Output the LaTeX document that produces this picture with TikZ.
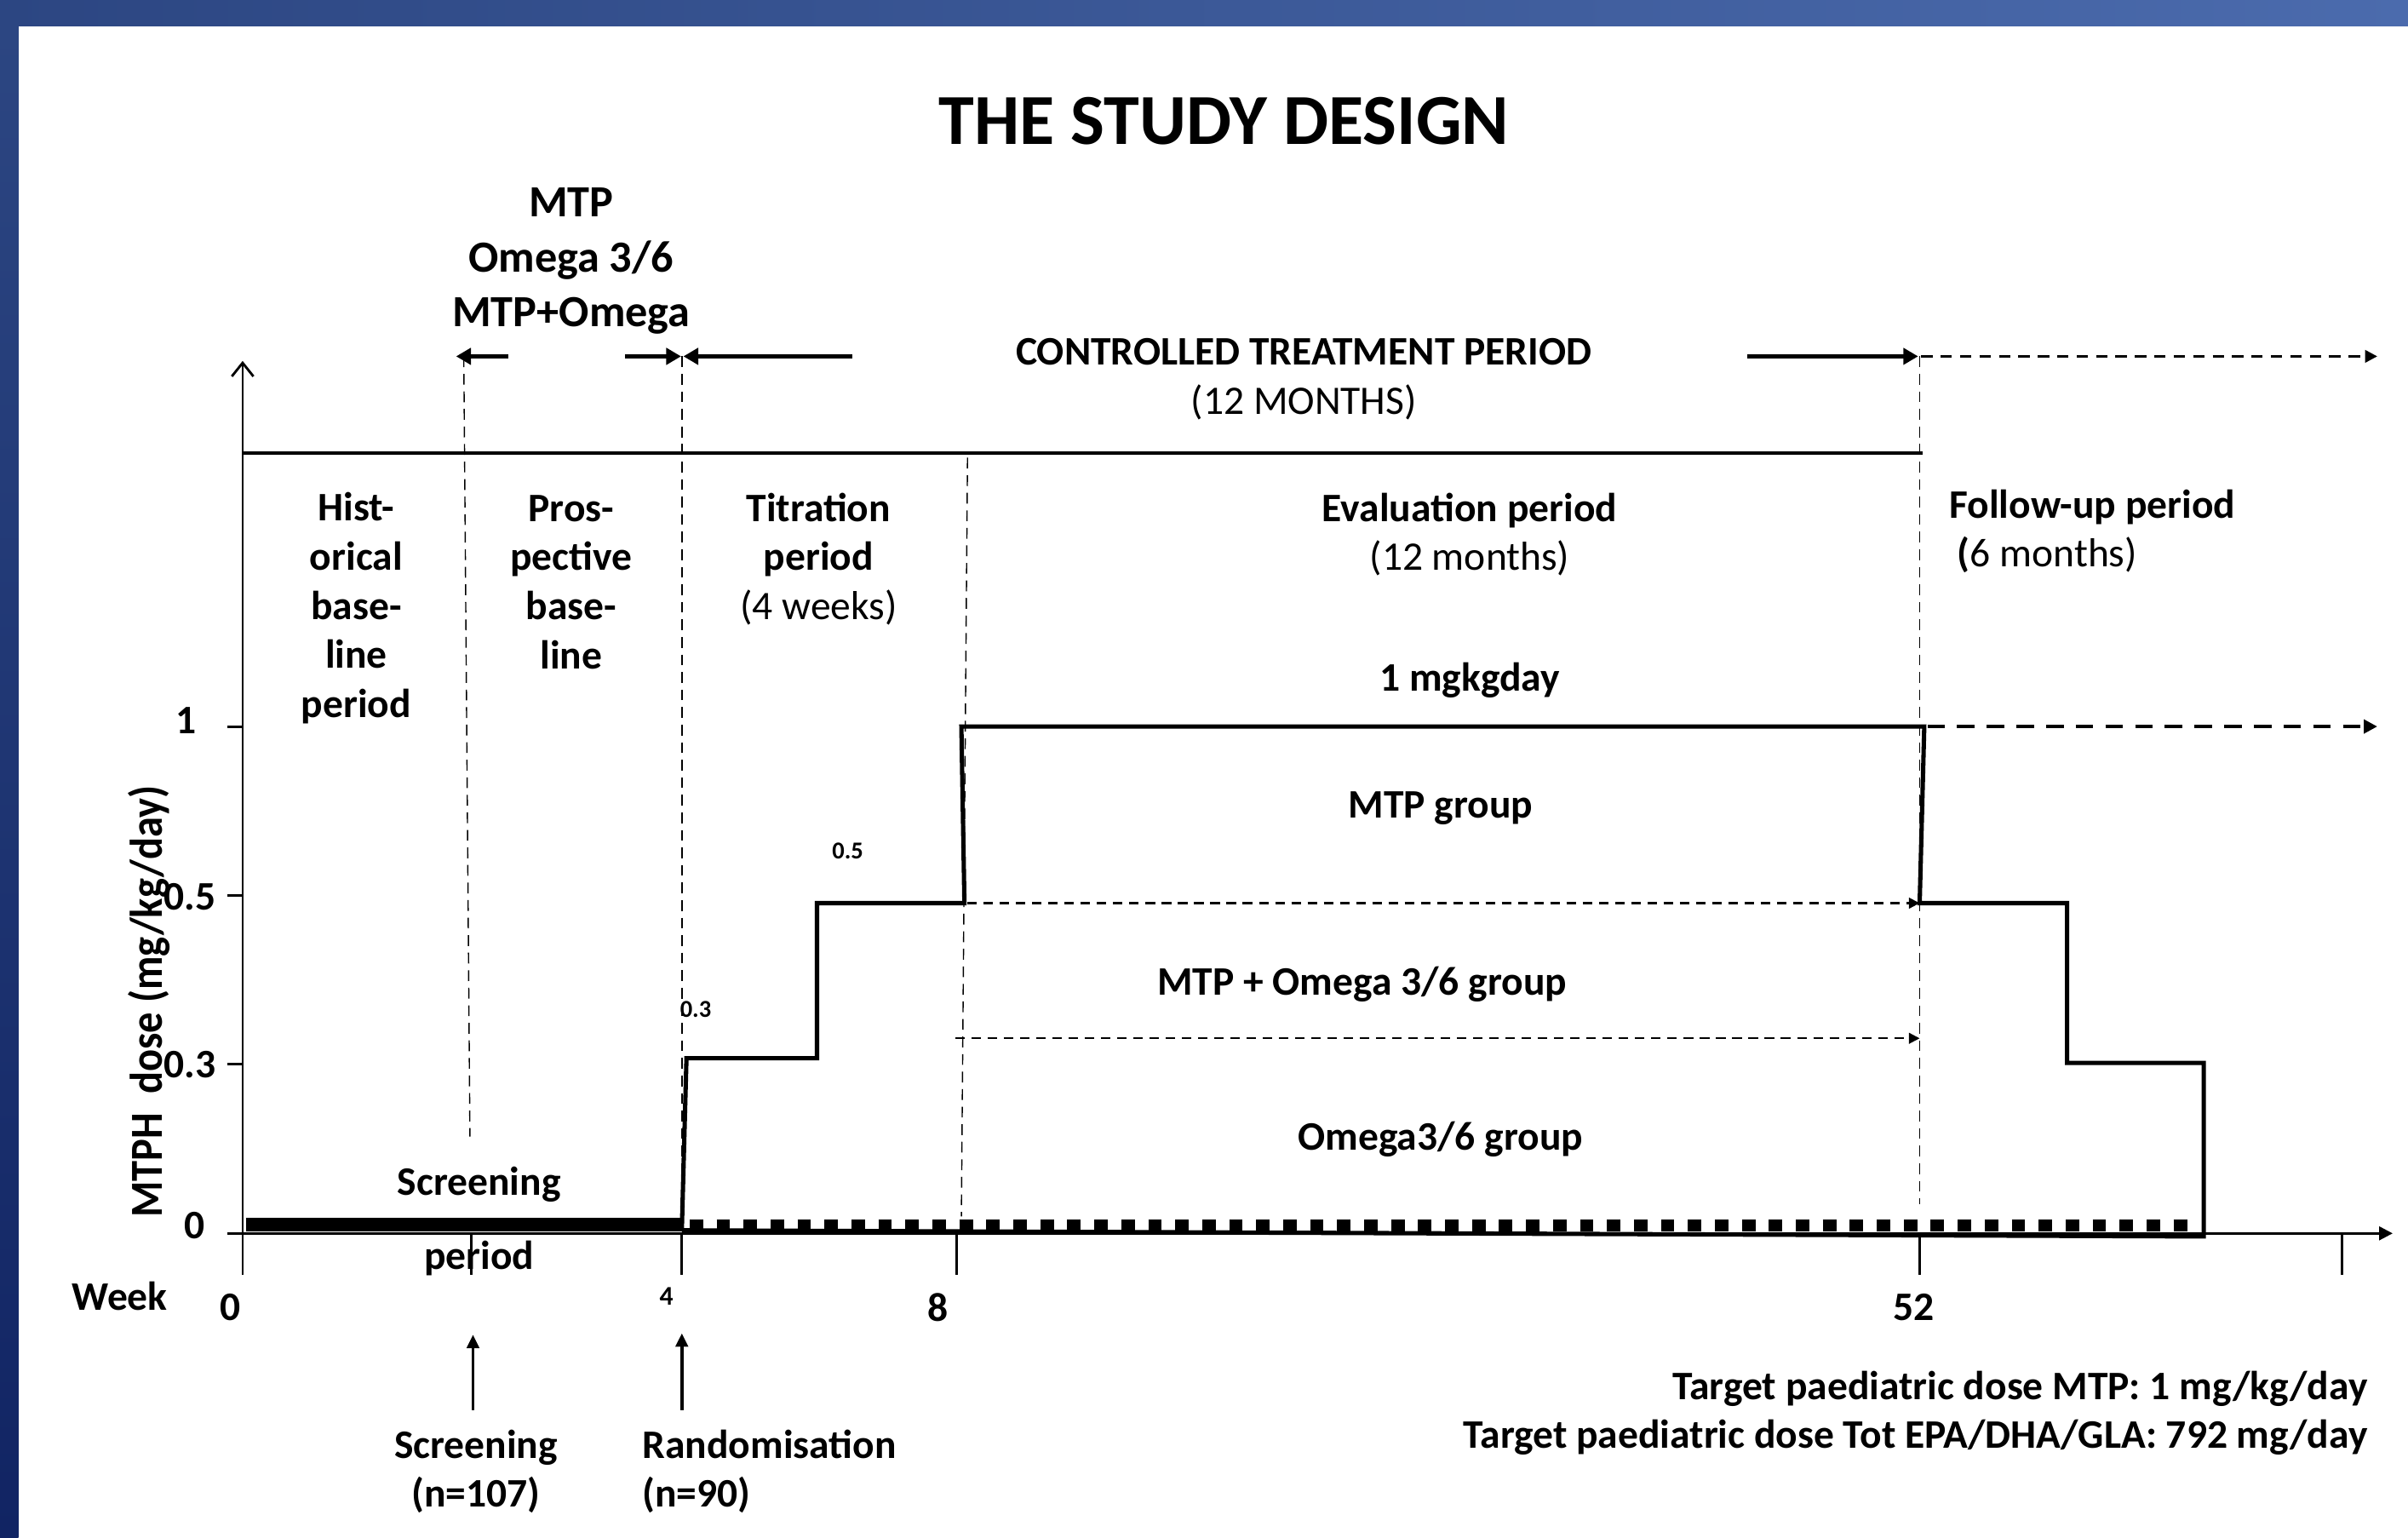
\documentclass[tikz,border=0pt]{standalone}
\usepackage{fontspec}
\setmainfont{Carlito}
\usetikzlibrary{arrows.meta}

\definecolor{bandL}{HTML}{2C4682}
\definecolor{bandR}{HTML}{4B6BAD}
\definecolor{sideB}{HTML}{112463}

\begin{document}
\begin{tikzpicture}[x=0.02cm,y=-0.02cm,
	txt/.style={font=\fontsize{15}{18.2}\selectfont,align=center,inner sep=0pt},
	btxt/.style={txt,font=\fontsize{15}{18.2}\selectfont\bfseries},
	tiny/.style={font=\fontsize{9}{10}\selectfont\bfseries,inner sep=0pt},
	axis/.style={line width=0.9pt},
	guide/.style={line width=0.45pt,dash pattern=on 4pt off 2.5pt},
	dose/.style={line width=1.6pt,line join=miter},
	fat/.style={line width=1.8pt,-{Triangle[length=5.5pt,width=6pt]}},
	grp/.style={line width=0.7pt,dash pattern=on 3.5pt off 2.5pt,-{Triangle[length=4pt,width=4pt]}},
	fup/.style={line width=1pt,dash pattern=on 4.2pt off 3pt,-{Triangle[length=4.5pt,width=4.5pt]}},
	fupthick/.style={line width=1.5pt,dash pattern=on 6.5pt off 4.5pt,-{Triangle[length=5pt,width=5pt]}},
	uparr/.style={line width=1.2pt,-{Triangle[length=5pt,width=4.5pt]}}]
	% slide frame
	\useasboundingbox (0,0) rectangle (1568,1001);
	\shade[left color=bandL,right color=bandR] (0,0) rectangle (1568,17);
	\shade[top color=bandL,bottom color=sideB] (0,17) rectangle (12,1001);
	\node[font=\fontsize{26.6}{30}\selectfont\bfseries] (title) at (797,79) {THE STUDY DESIGN};

	% axes
	\coordinate (O) at (158,803);
	\coordinate (ytop) at (158,235);
	\coordinate (xend) at (1558,803);
	\draw[axis,-{Straight Barb[length=5pt,width=8pt]}] (O) -- (ytop);
	\draw[axis,-{Triangle[length=5pt,width=5pt]}] (148,803) -- (xend);
	\foreach \wx in {158,307,444,623,1250,1525}
		\draw[axis] (\wx,803) -- (\wx,830);
	\foreach \dy in {473,583,693}
		\draw[axis] (148,\dy) -- (158,\dy);
	\draw[line width=1pt] (158,295) -- (1252,295);

	% period borders
	\draw[guide] (302,232) -- (306,740);
	\draw[guide] (444,232) -- (444,800);
	\draw[guide] (630,298) -- (626,792);
	\draw[guide] (1250,232) -- (1250,784);

	% arrows over the chart
	\coordinate (t2) at (297,232);
	\coordinate (t4) at (443.5,232);
	\coordinate (t4b) at (445,232);
	\coordinate (t52) at (1249,232);
	\coordinate (tend) at (1548,232);
	\draw[fat] (331,232) -- (t2);
	\draw[fat] (407,232) -- (t4);
	\draw[fat] (555,232) -- (t4b);
	\draw[fat] (1138,232) -- (t52);
	\draw[fup] (1251,232) -- (tend);

	% dose steps
	\draw[dose] (444,800) -- (447,689) -- (532,689) -- (532,588) -- (628,588)
		-- (626,473) -- (1253,473) -- (1250,588) -- (1346,588) -- (1346,692)
		-- (1435,692) -- (1435,805) -- (444,801);
	\draw[line width=5pt] (160,797.5) -- (444,797.5);
	\draw[line width=4.5pt,dash pattern=on 5pt off 5pt] (449,798) -- (1432,798);

	% group arrows
	\coordinate (g1) at (1548,473);
	\coordinate (g2) at (1250,588);
	\coordinate (g3) at (1250,676);
	\draw[fupthick] (1255,473) -- (g1);
	\draw[grp] (630,588) -- (g2);
	\draw[grp] (622,676) -- (g3);

	% labels
	\node[btxt,font=\fontsize{16.5}{20.3}\selectfont\bfseries] (arms) at (372,170) {MTP\\Omega 3/6\\MTP+Omega};
	\node[txt] (ctrllbl) at (849,247) {\textbf{CONTROLLED TREATMENT PERIOD}\\(12 MONTHS)};
	\node[btxt] (histlbl) at (232,396) {Hist-\\orical\\base-\\line\\period};
	\node[btxt] (proslbl) at (372,379) {Pros-\\pective\\base-\\line};
	\node[txt] (titrlbl) at (533,364) {\textbf{Titration}\\\textbf{period}\\(4 weeks)};
	\node[txt] (evallbl) at (957,348) {\textbf{Evaluation period}\\(12 months)};
	\node[txt,align=left,anchor=west] (follbl) at (1269,346) {\textbf{Follow-up period}\\\hspace*{3pt}\textbf{(}6 months)};
	\node[btxt] (fulldose) at (957,443) {1 mgkgday};
	\node[btxt] (mtpgrp) at (938,526) {MTP group};
	\node[btxt] (combgrp) at (887,641) {MTP + Omega 3/6 group};
	\node[btxt] (omegagrp) at (938,742) {Omega3/6 group};
	\node[tiny] (half) at (552,554) {0.5};
	\node[tiny] (third) at (453,657) {0.3};
	\node[btxt] (scrtop) at (312,771) {Screening};
	\node[btxt] (scrbot) at (312,819) {period};

	% axis labels
	\node[btxt,anchor=east] (d1) at (128,469) {1};
	\node[btxt,anchor=east] (d05) at (141,584) {0.5};
	\node[btxt,anchor=east] (d03) at (141,693) {0.3};
	\node[btxt,anchor=east] (d0) at (134,798) {0};
	\node[btxt,rotate=90,xscale=0.9,transform shape,font=\fontsize{17}{20}\selectfont\bfseries] (ylab) at (97,652) {MTPH\ \ dose (mg/kg/day)};
	\node[btxt] (week) at (78,844) {Week};
	\node[btxt] (w0) at (150,851) {0};
	\node[tiny,font=\fontsize{10}{11}\selectfont\bfseries] (w4) at (434,844) {4};
	\node[btxt] (w8) at (611,851) {8};
	\node[btxt] (w52) at (1246,851) {52};

	% screening and randomisation
	\coordinate (scrtail) at (308,918);
	\coordinate (scrtip) at (308,869);
	\coordinate (rndtail) at (444,918);
	\coordinate (rndtip) at (444,868);
	\draw[uparr] (scrtail) -- (scrtip);
	\draw[uparr] (rndtail) -- (rndtip);
	\node[btxt] (scrlbl) at (310,958) {Screening\\(n=107)};
	\node[btxt,align=left,anchor=west] (rndlbl) at (418,958) {Randomisation\\(n=90)};

	\node[btxt,align=right,anchor=east] (target) at (1542,920) {Target paediatric dose MTP: 1 mg/kg/day\\Target paediatric dose Tot EPA/DHA/GLA: 792 mg/day};
\end{tikzpicture}
\end{document}
